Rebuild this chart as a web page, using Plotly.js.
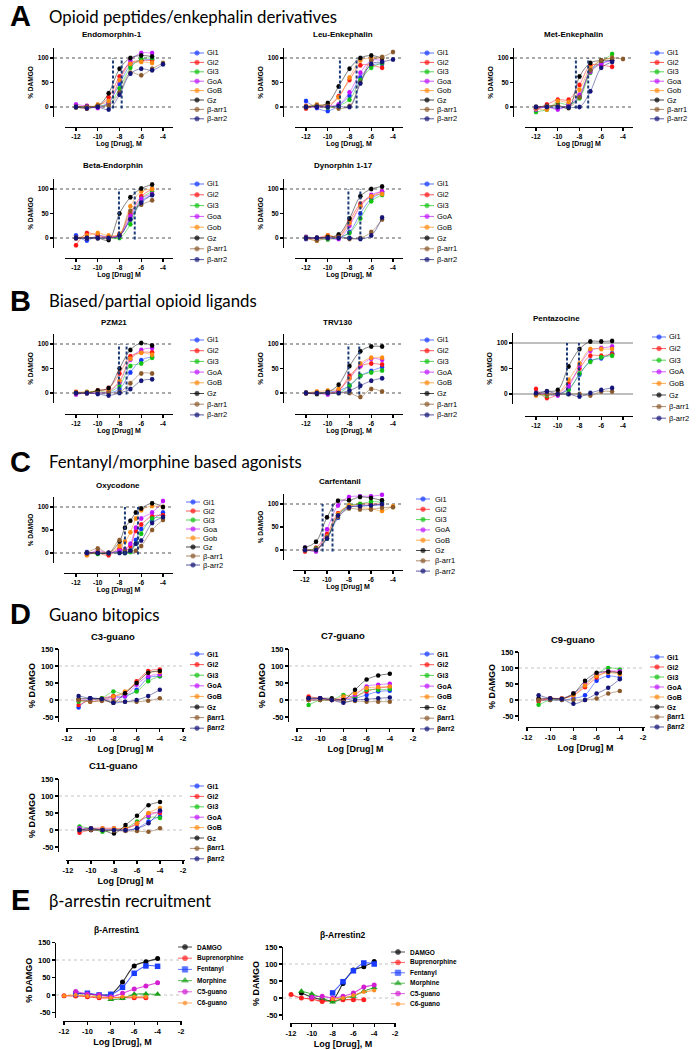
<!DOCTYPE html>
<html><head><meta charset="utf-8">
<script src="https://cdn.plot.ly/plotly-3.0.1.min.js"></script>
<style>html,body{margin:0;padding:0;background:#fff}#chart{width:698px;height:1050px}</style>
</head><body><div id="chart"></div>
<script>
// ---------------- DATA ----------------
const xA9 = [-12,-11,-10,-9,-8,-7,-6,-5,-4];
const xA8 = [-12,-11,-10,-9,-8,-7,-6,-5];
const xOxy = [-11,-10,-9,-8,-7.5,-7,-6.5,-6,-5,-4];
const xGuano = [-11,-10,-9,-8,-7,-6,-5,-4];

const labelsUpper = ['Gi1','Gi2','Gi3','GoA','GoB','Gz','β-arr1','β-arr2'];
const labelsLower = ['Gi1','Gi2','Gi3','Goa','Gob','Gz','β-arr1','β-arr2'];
const labelsGuano = ['Gi1','Gi2','Gi3','GoA','GoB','Gz','βarr1','βarr2'];
const labelsArr = ['DAMGO','Buprenorphine','Fentanyl','Morphine','C5-guano','C6-guano'];

const xTicksA = [-12,-10,-8,-6,-4];
const xTickTextA = ['-12','-10','-8','-6','-4'];
const xTicksD = [-12,-10,-8,-6,-4,-2];
const xTickTextD = ['-12','-10','-8','-6','-4','-2'];
const yTicksA = [0,50,100];
const yTickTextA = ['0','50','100'];
const yTicksD = [-50,0,50,100,150];
const yTickTextD = ['-50','0','50','100','150'];

// series order: Gi1, Gi2, Gi3, GoA, GoB, Gz, b-arr1, b-arr2
const endomorphinY = [
 [0,0,0,10,47,85,95,97,null],
 [0,2,2,20,62,90,95,95,null],
 [0,0,2,5,38,80,98,100,null],
 [5,2,-2,8,55,95,110,110,null],
 [0,-3,5,12,55,88,92,90,null],
 [0,0,2,28,78,100,105,103,null],
 [0,0,2,3,30,70,65,78,90],
 [0,-3,0,-5,25,68,78,75,87]];
const endomorphinEC = [-8.6,-7.8];

const leuY = [
 [12,-2,-8,3,23,60,85,88,null],
 [-3,2,0,22,55,85,85,80,null],
 [0,3,-1,3,15,55,80,90,null],
 [2,0,2,5,30,70,95,95,null],
 [2,5,5,20,60,95,100,100,null],
 [0,2,8,42,78,100,105,100,null],
 [0,3,2,-3,2,50,95,102,112],
 [0,0,0,2,0,48,88,92,97]];
const leuEC = [-8.88,-7.35];

const metY = [
 [-3,0,-3,3,22,75,90,95,null],
 [-5,5,15,15,45,85,85,82,null],
 [-10,-5,8,5,18,70,92,108,null],
 [-5,0,-5,5,25,72,88,95,null],
 [-3,-5,12,10,35,80,95,100,null],
 [0,2,3,-2,62,90,95,95,null],
 [0,2,3,0,20,75,95,100,98],
 [0,0,0,0,0,32,80,92,null]];
const metEC = [-8.33,-7.2];

const betaY = [
 [5,-5,5,2,5,40,75,88],
 [-15,10,5,2,8,50,85,100],
 [0,0,0,0,0,28,80,95],
 [0,0,0,2,5,45,80,90],
 [0,5,10,5,8,65,95,100],
 [0,0,0,-4,50,83,101,109],
 [0,0,0,0,5,55,68,77],
 [0,0,0,0,5,38,72,88]];
const betaEC = [-8.05,-6.6];

const dynY = [
 [-2,0,0,0,12,50,80,92],
 [0,0,5,3,35,70,85,95],
 [2,0,-3,2,10,40,75,88],
 [2,0,0,-2,25,65,88,95],
 [0,-5,5,2,30,65,85,90],
 [0,0,2,7,40,85,100,105],
 [0,-5,0,2,-2,0,12,38],
 [0,0,0,0,0,-2,5,42]];
const dynEC = [-8.1,-7.0];

const pzmY = [
 [0,0,0,0,8,42,67,74],
 [2,0,5,10,40,75,83,83],
 [0,2,3,2,15,55,60,72],
 [-3,0,0,3,22,68,88,92],
 [2,2,5,5,25,70,82,78],
 [0,0,5,10,50,88,102,97],
 [0,0,0,0,2,20,40,40],
 [0,0,-2,-5,0,8,25,28]];
const pzmEC = [-8.05,-7.35];

const trvY = [
 [0,0,2,5,15,35,45,53],
 [0,0,0,5,35,55,60,58],
 [0,0,0,0,15,35,42,46],
 [0,0,-3,5,30,55,70,68],
 [0,3,5,8,30,60,72,72],
 [0,-2,2,17,55,85,95,95],
 [0,0,0,0,0,-8,8,3],
 [0,0,0,0,5,15,25,30]];
const trvEC = [-8.1,-7.1];

const pentY = [
 [0,0,0,10,38,65,70,80],
 [10,-8,0,20,50,75,75,78],
 [0,-3,0,8,40,63,72,75],
 [0,0,-3,15,55,85,90,93],
 [-3,0,2,28,60,88,88,88],
 [0,5,8,54,88,103,103,104],
 [0,0,0,0,0,-3,5,5],
 [2,5,0,0,-5,2,8,12]];
const pentEC = [-9.15,-8.05];

const oxyY = [
 [2,0,0,5,2,5,28,52,72,88],
 [0,0,-5,10,5,15,48,62,80,82],
 [0,-2,0,2,0,2,20,42,75,76],
 [-3,5,0,5,8,20,55,75,88,113],
 [-5,2,0,15,25,45,75,93,102,100],
 [0,0,0,25,55,70,88,97,108,100],
 [0,10,0,28,5,5,5,15,50,72],
 [0,0,0,0,0,5,20,27,65,78]];
const oxyEC = [-7.5,-6.3];

const carfY = [
 [0,2,25,70,92,97,97,98,null],
 [-3,5,35,80,95,100,100,100,null],
 [0,3,25,75,97,100,105,104,null],
 [5,-3,45,97,115,117,117,120,null],
 [2,0,30,78,97,92,90,85,95],
 [5,18,71,107,108,115,113,108,null],
 [0,2,28,72,90,88,88,92,93],
 [0,0,25,75,93,95,97,100,null]];
const carfEC = [-10.4,-9.5];

const c3Y = [
 [-22,5,3,10,10,30,65,70],
 [-15,0,5,12,20,55,85,90],
 [-5,0,5,25,15,25,55,70],
 [0,0,0,5,12,45,70,75],
 [0,-5,0,10,25,50,80,82],
 [3,5,3,-8,20,50,80,85],
 [0,-5,-3,-3,-5,-5,-2,5],
 [12,5,3,-8,-5,0,12,30]];
const c7Y = [
 [0,0,0,0,5,15,25,27],
 [10,5,0,2,10,25,35,38],
 [-15,0,0,15,8,30,30,32],
 [0,5,0,5,15,40,45,48],
 [0,0,0,10,20,35,38,40],
 [5,5,5,0,30,60,72,77],
 [0,0,0,-5,-3,-5,-5,-5],
 [5,5,0,-8,0,2,5,7]];
const c9Y = [
 [0,0,0,5,15,60,75,70],
 [-5,5,5,15,40,70,90,85],
 [-15,0,5,20,50,80,100,95],
 [0,5,5,20,50,80,90,90],
 [0,5,5,15,45,75,85,80],
 [5,5,3,20,60,85,88,85],
 [0,0,0,0,0,5,20,28],
 [15,5,3,-12,0,20,38,65]];
const c11Y = [
 [0,0,0,0,-2,5,25,40],
 [-8,0,0,0,5,18,48,50],
 [10,5,-5,0,5,25,38,35],
 [5,5,5,5,3,20,42,55],
 [0,5,5,5,5,20,50,65],
 [0,0,0,-10,15,42,73,82],
 [0,0,0,-2,-3,-3,-5,5],
 [0,5,0,0,0,5,20,57]];

// DAMGO, Buprenorphine, Fentanyl, Morphine, C5-guano, C6-guano
const arr1Y = [
 [null,5,3,0,2,37,83,95,104],
 [-2,-3,-5,-8,-8,-8,-8,-8,null],
 [null,3,5,0,2,22,62,83,82],
 [null,null,null,null,-13,-10,2,3,2],
 [null,10,3,0,-5,5,17,26,35],
 [-2,0,-3,-5,-8,-5,-5,-5,null]];
const arr2Y = [
 [null,15,3,-5,-5,43,82,92,107],
 [10,0,-3,-10,-8,-5,-5,-5,null],
 [null,null,null,null,15,48,80,103,100],
 [null,20,12,0,-12,0,5,20,30],
 [null,null,2,5,0,5,15,32,38],
 [null,null,null,null,-3,0,8,18,22]];

// ---------------- STYLE / LAYOUT ----------------
const W=698, H=1050;
const F='"Liberation Sans", Arial, Helvetica, sans-serif';
const gColors=['#1436ff','#ff1414','#12c312','#c014ff','#ff8a10','#000000','#8a5a2c','#141478'];
const eColors=['#000000','#ff2020','#1a3cff','#18a018','#d21fd2','#ff8a20'];
const eSymbols=['circle','circle','square','triangle-up','circle','circle'];
const eSizes=[5,5,5.5,6,5,4];

const panels = [
 {title:'Endomorphin-1', x:xA9, y:endomorphinY, labels:labelsUpper, ec:endomorphinEC, xtitle:'Log [Drug], M', kind:'A'},
 {title:'Leu-Enkephalin', x:xA9, y:leuY, labels:labelsLower, ec:leuEC, xtitle:'Log [Drug], M', kind:'A'},
 {title:'Met-Enkephalin', x:xA9, y:metY, labels:labelsLower, ec:metEC, xtitle:'Log [Drug] M', kind:'A'},
 {title:'Beta-Endorphin', x:xA8, y:betaY, labels:labelsLower, ec:betaEC, xtitle:'Log [Drug] M', kind:'A'},
 {title:'Dynorphin 1-17', x:xA8, y:dynY, labels:labelsUpper, ec:dynEC, xtitle:'Log [Drug], M', kind:'A'},
 {title:'PZM21', x:xA8, y:pzmY, labels:labelsUpper, ec:pzmEC, xtitle:'Log [Drug] M', kind:'A'},
 {title:'TRV130', x:xA8, y:trvY, labels:labelsUpper, ec:trvEC, xtitle:'Log [Drug], M', kind:'A'},
 {title:'Pentazocine', x:xA8, y:pentY, labels:labelsUpper, ec:pentEC, xtitle:'', kind:'P'},
 {title:'Oxycodone', x:xOxy, y:oxyY, labels:labelsLower, ec:oxyEC, xtitle:'Log [Drug] M', kind:'A'},
 {title:'Carfentanil', x:xA9, y:carfY, labels:labelsUpper, ec:carfEC, xtitle:'Log [Drug] M', kind:'A'},
 {title:'C3-guano', x:xGuano, y:c3Y, labels:labelsGuano, ec:[], xtitle:'Log [Drug] M', kind:'D'},
 {title:'C7-guano', x:xGuano, y:c7Y, labels:labelsGuano, ec:[], xtitle:'Log [Drug] M', kind:'D'},
 {title:'C9-guano', x:xGuano, y:c9Y, labels:labelsGuano, ec:[], xtitle:'Log [Drug] M', kind:'D'},
 {title:'C11-guano', x:xGuano, y:c11Y, labels:labelsGuano, ec:[], xtitle:'Log [Drug] M', kind:'D'},
 {title:'β-Arrestin1', x:xA9, y:arr1Y, labels:labelsArr, ec:[], xtitle:'Log [Drug], M', kind:'E'},
 {title:'β-Arrestin2', x:xA9, y:arr2Y, labels:labelsArr, ec:[], xtitle:'Log [Drug], M', kind:'E'}
];

// geometry in page pixels
const geo = [
 {yx:53, xline:[65,173], xt:[-12,76,-4,163], y0:107, y100:58, yr:[-20,120], xy:127, tt:[112,35], lg:[197,205,53,9.4]},
 {yx:283, xline:[295,403], xt:[-12,306,-4,393], y0:107, y100:58, yr:[-20,120], xy:127, tt:[343,35], lg:[427,435,53,9.4]},
 {yx:513, xline:[525,633], xt:[-12,536,-4,623], y0:107, y100:58, yr:[-20,120], xy:127, tt:[573,35], lg:[657,665,53,9.4]},
 {yx:53, xline:[65,173], xt:[-12,76,-4,163], y0:238, y100:189, yr:[-20,120], xy:258, tt:[113,166], lg:[197,205,184,10.8]},
 {yx:283, xline:[295,403], xt:[-12,306,-4,393], y0:238, y100:189, yr:[-20,120], xy:258, tt:[343,166], lg:[427,435,184,10.8]},
 {yx:53, xline:[65,173], xt:[-12,76,-4,163], y0:393, y100:344, yr:[-20,120], xy:414, tt:[114,322], lg:[197,205,340,10.7]},
 {yx:283, xline:[295,403], xt:[-12,306,-4,393], y0:393, y100:344, yr:[-20,120], xy:414, tt:[338,322], lg:[427,435,340,10.7]},
 {yx:512, xline:[525,633], xt:[-12,536,-4,623], y0:394, y100:343, yr:[-20,120], xy:416, tt:[556,318], lg:[659,667,337,11.6]},
 {yx:53, xline:[64,173], xt:[-12,76,-4,163], y0:553, y100:507, yr:[-22,122], xy:573, tt:[118,485], lg:[193,201,502,9]},
 {yx:283, xline:[293,403], xt:[-12,305,-4,393], y0:550, y100:504, yr:[-22,122], xy:570, tt:[340,481], lg:[423,433,499,10.3]},
 {yx:58, xline:[66,185], xt:[-12,67,-2,183], y0:700, y100:666, yr:[-65,150], xy:728, tt:[113,636], lg:[197,205,654,10.6]},
 {yx:288, xline:[296,415], xt:[-12,297,-2,413], y0:700, y100:666, yr:[-65,150], xy:728, tt:[343,635], lg:[427,435,654,10.7]},
 {yx:518, xline:[526,645], xt:[-12,527,-2,643], y0:700, y100:668, yr:[-65,150], xy:727, tt:[573,639], lg:[657,665,657,10]},
 {yx:58, xline:[66,185], xt:[-12,68,-2,183], y0:830, y100:796, yr:[-65,150], xy:860, tt:[113,765], lg:[197,205,786,10.4]},
 {yx:55, xline:[63,182], xt:[-12,64,-2,181], y0:995, y100:960, yr:[-65,150], xy:1021, tt:[117,930], lg:[185,195,947,11.2]},
 {yx:282, xline:[290,396], xt:[-12,291,-2,395], y0:998, y100:964, yr:[-65,150], xy:1023, tt:[343,935], lg:[398,408,952,10.4]}
];

function rgba(hex,a){const n=parseInt(hex.slice(1),16);return 'rgba('+((n>>16)&255)+','+((n>>8)&255)+','+(n&255)+','+a+')';}

const data=[], shapes=[], annotations=[];
const layout={width:W,height:H,margin:{l:0,r:0,t:0,b:0},paper_bgcolor:'#fff',plot_bgcolor:'rgba(0,0,0,0)',showlegend:false,hovermode:false};

const legendAxis = String(panels.length+1);
layout['xaxis'+legendAxis]={domain:[0,1],range:[0,W],visible:false,fixedrange:true};
layout['yaxis'+legendAxis]={domain:[0,1],range:[H,0],visible:false,fixedrange:true,anchor:'x'+legendAxis};

panels.forEach((p,i)=>{
  const g=geo[i];
  const n=i===0?'':String(i+1);
  const isDE = p.kind==='D'||p.kind==='E';
  const ppx=(g.xt[3]-g.xt[1])/(g.xt[2]-g.xt[0]);
  const xr=[g.xt[0]+(g.xline[0]-g.xt[1])/ppx, g.xt[0]+(g.xline[1]-g.xt[1])/ppx];
  const ppu=(g.y0-g.y100)/100;
  const top=g.y0-g.yr[1]*ppu, bot=g.y0-g.yr[0]*ppu;
  const tickF={family:F,size:isDE?7.5:6.5,color:'#000',weight:700};
  layout['xaxis'+n]={domain:[g.xline[0]/W,g.xline[1]/W],range:xr,anchor:'free',position:1-g.xy/H,
    showline:true,linecolor:'#000',linewidth:1.3,ticks:'outside',ticklen:3,tickwidth:1.2,tickcolor:'#000',
    tickvals:isDE?xTicksD:xTicksA,ticktext:isDE?xTickTextD:xTickTextA,tickfont:tickF,showgrid:false,zeroline:false,fixedrange:true,
    title:{text:p.xtitle,font:{family:F,size:isDE?9:7,color:'#000',weight:700},standoff:isDE?3:1}};
  layout['yaxis'+n]={domain:[1-bot/H,1-top/H],range:g.yr,anchor:'free',position:g.yx/W,
    showline:true,linecolor:'#000',linewidth:1.3,ticks:'outside',ticklen:3,tickwidth:1.2,tickcolor:'#000',
    tickvals:isDE?yTicksD:yTicksA,ticktext:isDE?yTickTextD:yTickTextA,tickfont:tickF,showgrid:false,zeroline:false,fixedrange:true,
    title:{text:'% DAMGO',font:{family:F,size:isDE?9:6.5,color:'#000',weight:700},standoff:2}};

  // reference lines at 0 and 100
  [0,100].forEach(v=>{
    shapes.push({type:'line',xref:'paper',yref:'y'+n,x0:(g.yx+1)/W,x1:g.xline[1]/W,y0:v,y1:v,layer:'below',
      line:p.kind==='P'?{color:'#a8a8a8',width:1.6}:(isDE?{color:'#c4c4c4',width:1,dash:'dot'}:{color:'#555',width:1,dash:'dot'})});
  });
  // EC50 dashed lines
  p.ec.forEach(e=>{
    shapes.push({type:'line',xref:'x'+n,yref:'y'+n,x0:e,x1:e,y0:-3,y1:100,line:{color:'#1d3c78',width:2,dash:'3px,2px'}});
  });

  const cols = p.kind==='E'?eColors:gColors;
  p.y.forEach((ys,j)=>{
    const c=cols[j];
    const tr={type:'scatter',x:p.x,y:ys,xaxis:'x'+n,yaxis:'y'+n,mode:'lines+markers',connectgaps:true,hoverinfo:'skip',
      line:{shape:'spline',smoothing:1,width:p.kind==='E'?1.1:0.9,color:rgba(c,p.kind==='E'?0.8:0.55)},
      marker:{size:p.kind==='E'?eSizes[j]:4.5,color:c,symbol:p.kind==='E'?eSymbols[j]:'circle'},cliponaxis:false};
    if(!isDE){tr.error_y={type:'constant',value:4,color:rgba(c,0.45),thickness:0.8,width:1.5};}
    data.push(tr);
    // legend glyph + text
    const ly=g.lg[2]+j*g.lg[3];
    const mx=g.lg[0];
    data.push({type:'scatter',x:[mx-7,mx,mx+7],y:[ly,ly,ly],xaxis:'x'+legendAxis,yaxis:'y'+legendAxis,mode:'lines+markers',hoverinfo:'skip',
      line:{color:rgba(c,0.7),width:1},marker:{size:[0,p.kind==='E'?eSizes[j]:4.5,0],color:c,symbol:p.kind==='E'?eSymbols[j]:'circle'}});
    annotations.push({xref:'paper',yref:'paper',x:g.lg[1]/W,y:1-ly/H,xanchor:'left',yanchor:'middle',showarrow:false,text:p.labels[j],
      font:{family:F,size:isDE?(p.kind==='E'?6.5:7):7.5,color:'#000',weight:isDE?700:400}});
  });
  annotations.push({xref:'paper',yref:'paper',x:g.tt[0]/W,y:1-g.tt[1]/H,xanchor:'center',yanchor:'middle',showarrow:false,text:p.title,
    font:{family:F,size:isDE?(p.kind==='E'?8.5:9.5):8,color:'#000',weight:700}});
});

// section headers
const secLetters=['A','B','C','D','E'];
const secTitles=['Opioid peptides/enkephalin derivatives','Biased/partial opioid ligands','Fentanyl/morphine based agonists','Guano bitopics','β-arrestin recruitment'];
const secY=[16,301,462,614,900];
secLetters.forEach((s,k)=>{
  annotations.push({xref:'paper',yref:'paper',x:20/W,y:1-secY[k]/H,xanchor:'center',yanchor:'middle',showarrow:false,text:s,
    font:{family:F,size:29,color:'#000',weight:900}});
  annotations.push({xref:'paper',yref:'paper',x:47/W,y:1-secY[k]/H,xanchor:'left',yanchor:'middle',showarrow:false,text:secTitles[k],
    font:{family:'Lato, "Open Sans", sans-serif',size:16.8,color:'#000'}});
});

layout.shapes=shapes;
layout.annotations=annotations;
Plotly.newPlot('chart',data,layout,{staticPlot:true,displayModeBar:false});
</script></body></html>
